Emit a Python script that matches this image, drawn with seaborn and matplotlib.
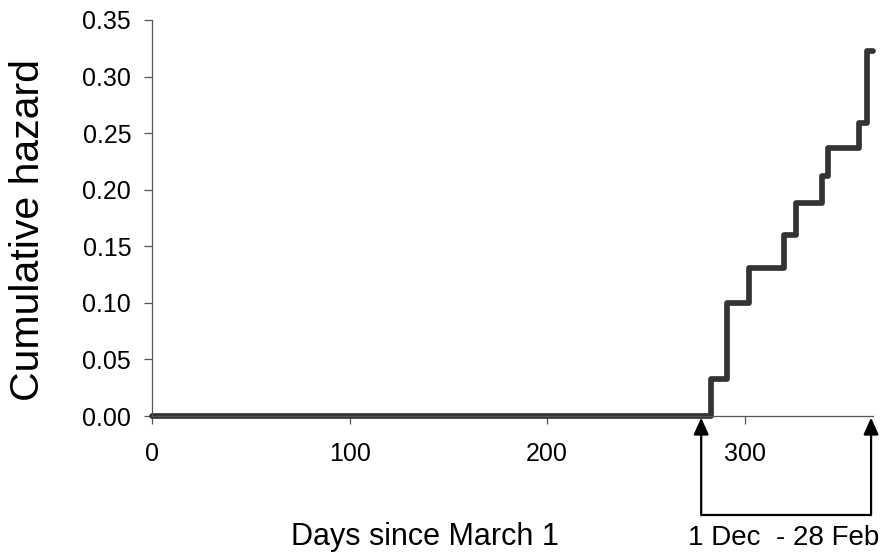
import matplotlib
matplotlib.use("Agg")
import matplotlib.pyplot as plt
import matplotlib.transforms as mtransforms
import seaborn as sns
import pandas as pd

# Data
days = [0, 283, 291, 302, 320, 326, 339, 342, 358, 362, 365]
hazard = [0.0, 0.033, 0.100, 0.131, 0.160, 0.188, 0.212, 0.237, 0.259, 0.323, 0.323]
x_ticks = [0, 100, 200, 300]
y_ticks = [0.00, 0.05, 0.10, 0.15, 0.20, 0.25, 0.30, 0.35]
winter_start = 278
winter_end = 364
winter_label = "1 Dec  - 28 Feb"

sns.set_theme(style="white")
plt.rcParams["font.family"] = ["Liberation Sans", "DejaVu Sans"]

df = pd.DataFrame({"day": days, "hazard": hazard})

fig = plt.figure(figsize=(8.84, 5.54), dpi=100)
ax = fig.add_axes([0.172, 0.249, 0.8156, 0.715])

sns.lineplot(data=df, x="day", y="hazard", ax=ax, estimator=None, sort=False,
             drawstyle="steps-post", color="#333333", linewidth=4.1,
             solid_joinstyle="round", solid_capstyle="round", clip_on=False)

ax.set_xlim(0, 365)
ax.set_ylim(0, 0.35)
ax.set_xticks(x_ticks)
ax.set_xticklabels([str(t) for t in x_ticks])
ax.set_yticks(y_ticks)
ax.set_yticklabels([f"{t:.2f}" for t in y_ticks])

for s in ["top", "right"]:
    ax.spines[s].set_visible(False)
for s in ["left", "bottom"]:
    ax.spines[s].set_color("#555555")
    ax.spines[s].set_linewidth(0.9)

ax.tick_params(axis="both", direction="out", length=6, width=0.9,
               color="#555555", labelsize=18, labelcolor="black")
ax.tick_params(axis="x", bottom=True, pad=13)
ax.tick_params(axis="y", left=True, pad=9)

ax.set_xlabel("Days since March 1", fontsize=22, color="black", va="center")
ax.xaxis.set_label_coords(0.379, -0.306)
ax.set_ylabel("Cumulative hazard", fontsize=29.5, color="black", va="center")
ax.yaxis.set_label_coords(-0.172, 0.47)

# Winter bracket with arrows
trans = mtransforms.blended_transform_factory(ax.transData, ax.transAxes)
y_base = -0.25
y_tip = -0.004
for xd in (winter_start, winter_end):
    ax.annotate("", xy=(xd, y_tip), xytext=(xd, y_base), xycoords=trans,
                textcoords=trans,
                arrowprops=dict(arrowstyle="-|>,head_length=0.85,head_width=0.38",
                                color="black", lw=1.6, shrinkA=0, shrinkB=0),
                annotation_clip=False)
ax.plot([winter_start, winter_end], [y_base, y_base], transform=trans,
        color="black", lw=1.6, clip_on=False, solid_capstyle="butt")
ax.text((winter_start + winter_end) / 2 - 1.5, -0.308, winter_label, transform=trans,
        ha="center", va="center", fontsize=20, color="black")

fig.savefig("out.png", dpi=100, facecolor="white")
